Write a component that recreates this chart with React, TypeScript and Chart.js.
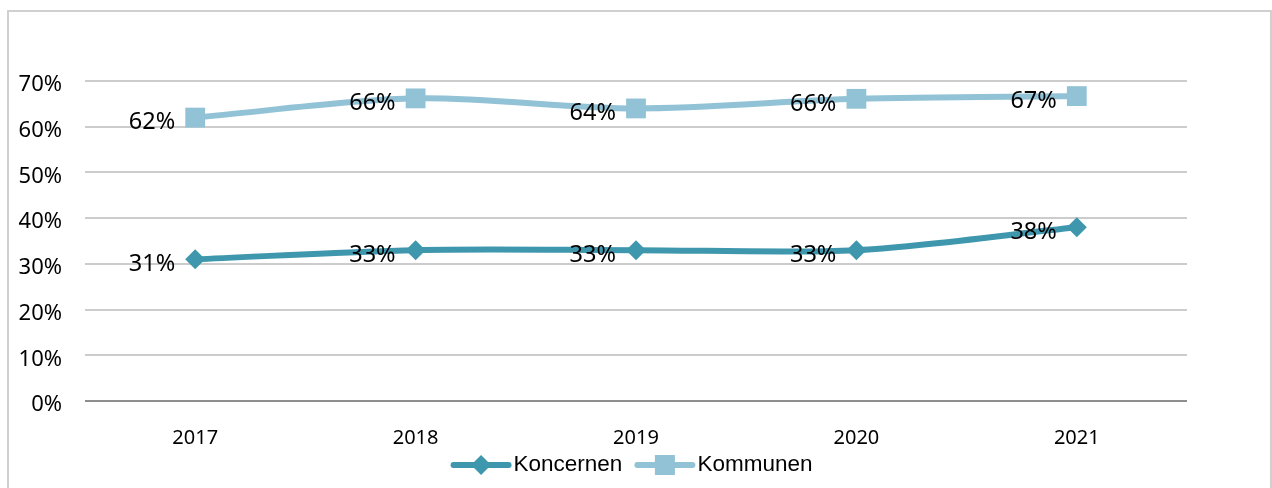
import React, { useEffect, useRef } from "react";
import { Chart, registerables } from "chart.js";
Chart.register(...registerables);

const years = ["2017", "2018", "2019", "2020", "2021"];
const koncernen = [0.31, 0.33, 0.33, 0.33, 0.38];
const kommunen = [0.62, 0.662, 0.64, 0.661, 0.667];
const seriesNames = ["Koncernen", "Kommunen"];
const seriesColors = ["#3f97ae", "#92c2d6"];
const pointStyles = ["rectRot", "rect"];
const pointRadii = [10, 14];

const pct = (v: number) => Math.round(v * 100) + "%";

const borderPlugin = {
  id: "outerBorder",
  beforeDraw(chart: any) {
    const ctx = chart.ctx;
    ctx.save();
    ctx.fillStyle = "#ffffff";
    ctx.fillRect(0, 0, chart.width, chart.height);
    ctx.strokeStyle = "#d0d0d0";
    ctx.lineWidth = 2;
    ctx.strokeRect(8, 11, chart.width - 9, chart.height + 10);
    ctx.restore();
  },
};

const dataLabelPlugin = {
  id: "dataLabels",
  afterDatasetsDraw(chart: any) {
    const ctx = chart.ctx;
    ctx.save();
    ctx.font = "23.5px 'Noto Sans'";
    ctx.fillStyle = "#000000";
    ctx.textAlign = "right";
    ctx.textBaseline = "middle";
    chart.data.datasets.forEach((ds: any, i: number) => {
      const meta = chart.getDatasetMeta(i);
      meta.data.forEach((pt: any, j: number) => {
        ctx.fillText(pct(ds.data[j]), pt.x - 20, pt.y + 5);
      });
    });
    ctx.restore();
  },
};

const legendPlugin = {
  id: "customLegend",
  afterDraw(chart: any) {
    const ctx = chart.ctx;
    ctx.save();
    ctx.font = "22.5px 'Liberation Sans'";
    const lineLen = 55;
    const gap = 5;
    const itemGap = 15;
    const widths = seriesNames.map((n) => lineLen + gap + ctx.measureText(n).width);
    const total = widths.reduce((a, b) => a + b, 0) + itemGap * (widths.length - 1);
    const ca = chart.chartArea;
    let x = (ca.left + ca.right) / 2 - total / 2 - 3;
    const y = 465;
    seriesNames.forEach((n, i) => {
      ctx.strokeStyle = seriesColors[i];
      ctx.lineWidth = 6;
      ctx.lineCap = "round";
      ctx.beginPath();
      ctx.moveTo(x, y);
      ctx.lineTo(x + lineLen, y);
      ctx.stroke();
      ctx.fillStyle = seriesColors[i];
      const cx = x + lineLen / 2;
      if (pointStyles[i] === "rectRot") {
        const r = 10;
        ctx.beginPath();
        ctx.moveTo(cx - r, y);
        ctx.lineTo(cx, y - r);
        ctx.lineTo(cx + r, y);
        ctx.lineTo(cx, y + r);
        ctx.closePath();
        ctx.fill();
      } else {
        const s = 10;
        ctx.fillRect(cx - s, y - s, 2 * s, 2 * s);
      }
      ctx.fillStyle = "#000000";
      ctx.textAlign = "left";
      ctx.textBaseline = "middle";
      ctx.fillText(n, x + lineLen + gap, y);
      x += widths[i] + itemGap;
    });
    ctx.restore();
  },
};

export default function App() {
  const ref = useRef<HTMLCanvasElement>(null);
  useEffect(() => {
    if (!ref.current) return;
    const chart = new Chart(ref.current, {
      type: "line",
      data: {
        labels: years,
        datasets: [koncernen, kommunen].map((d, i) => ({
          label: seriesNames[i],
          data: d,
          borderColor: seriesColors[i],
          backgroundColor: seriesColors[i],
          borderWidth: 6,
          pointStyle: pointStyles[i] as any,
          pointRadius: pointRadii[i],
          pointBorderWidth: 0,
          pointBackgroundColor: seriesColors[i],
          tension: 0.3,
          fill: false,
        })),
      },
      options: {
        animation: false,
        responsive: false,
        devicePixelRatio: 1,
        layout: { padding: { top: 81, right: 85, left: 0, bottom: 0 } },
        plugins: {
          legend: { display: false },
          tooltip: { enabled: false },
        },
        scales: {
          x: {
            offset: true,
            grid: { display: false, drawTicks: false },
            border: { display: false },
            ticks: {
              font: { family: "'Noto Sans'", size: 20 },
              color: "#000000",
              padding: 25,
              maxRotation: 0,
            },
            afterFit: (s: any) => {
              s.height = 87;
            },
          },
          y: {
            min: 0,
            max: 0.7,
            grid: {
              drawTicks: false,
              lineWidth: 2,
              color: (c: any) => (c.tick && c.tick.value === 0 ? "#8e8e8e" : "#cccccc"),
            },
            border: { display: false },
            ticks: {
              stepSize: 0.1,
              font: { family: "'Noto Sans'", size: 22 },
              color: "#000000",
              padding: 23,
              labelOffset: 4,
              callback: (v: any) => pct(Number(v)),
            },
            afterFit: (s: any) => {
              s.width = 85;
            },
          },
        },
      },
      plugins: [borderPlugin, dataLabelPlugin, legendPlugin],
    });
    return () => chart.destroy();
  }, []);
  return (
    <div style={{ position: "fixed", left: 0, top: 0, width: 1272, height: 488 }}>
      <canvas ref={ref} width={1272} height={488} style={{ display: "block" }} />
    </div>
  );
}
